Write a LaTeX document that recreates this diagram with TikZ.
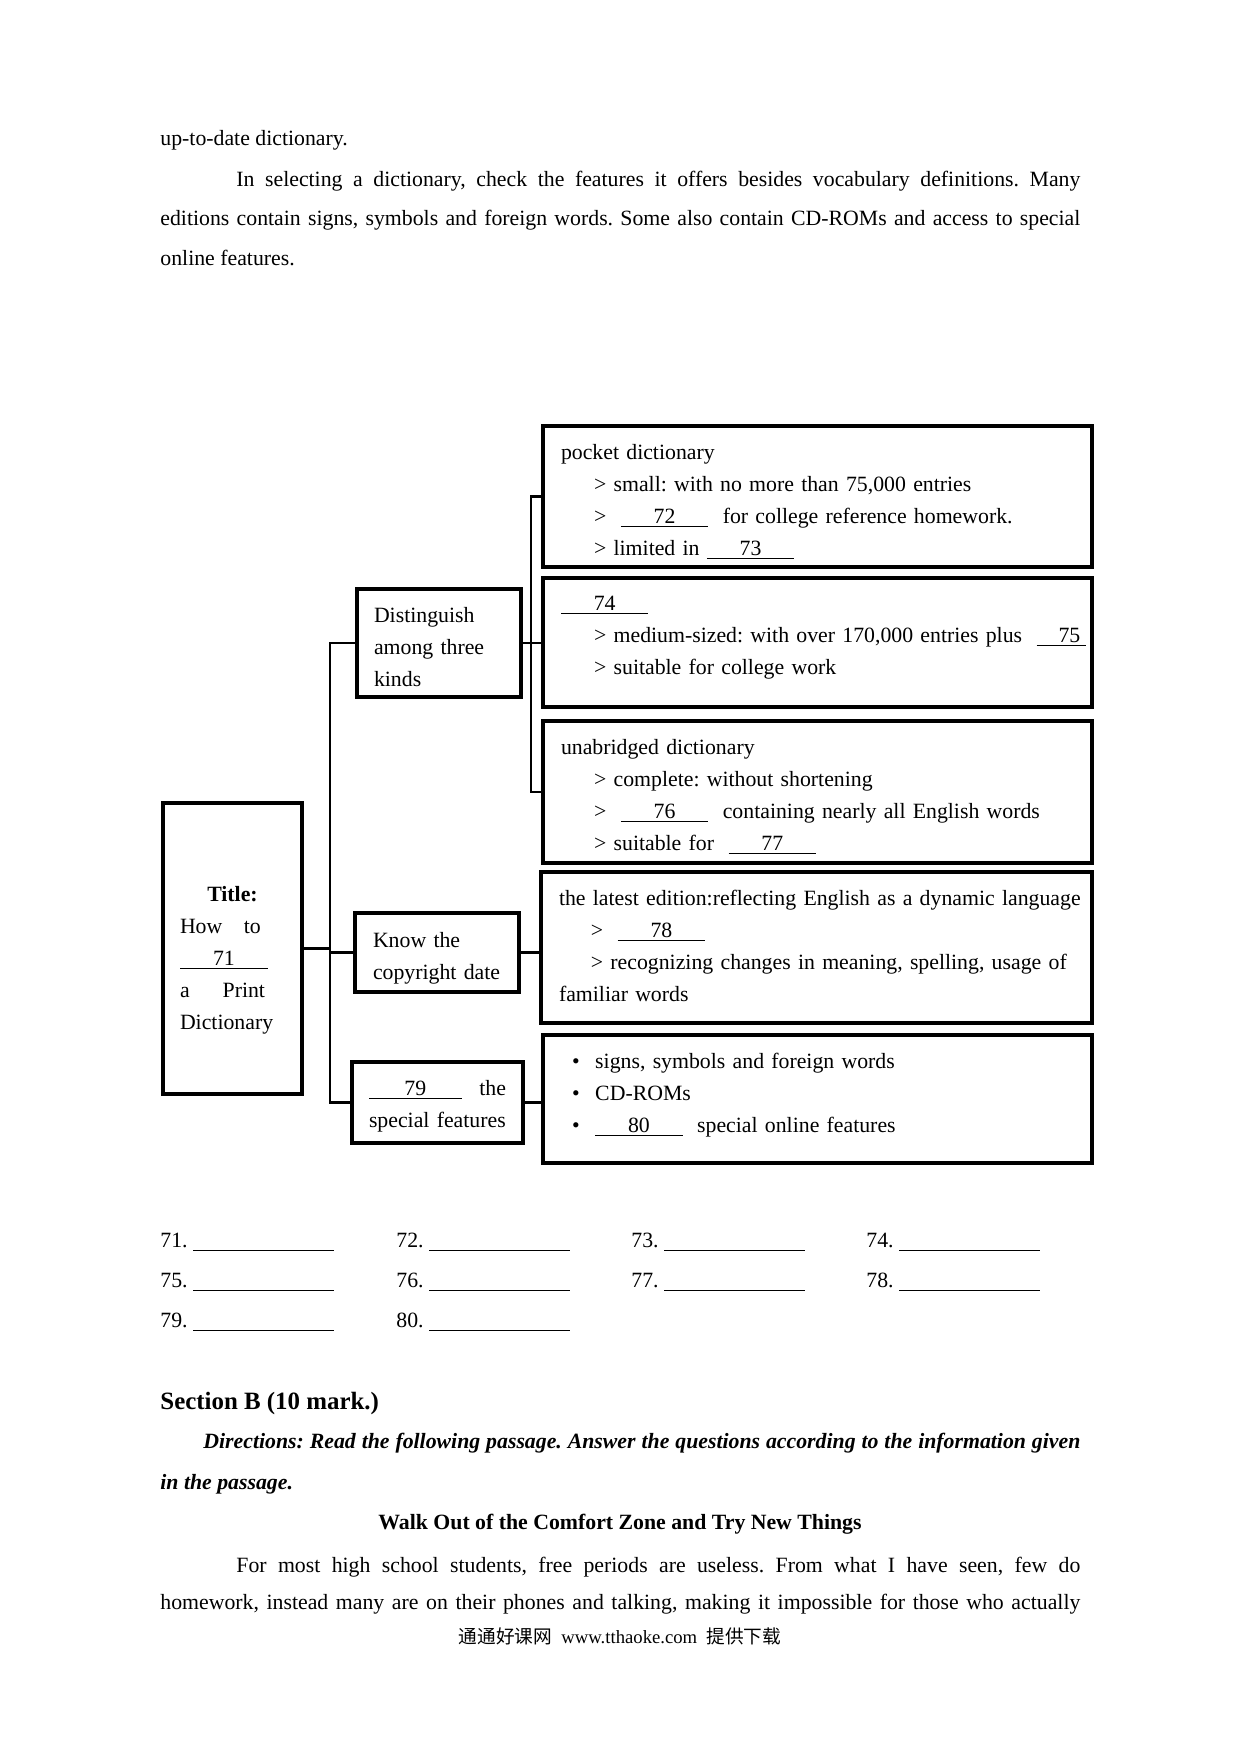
\documentclass[tikz,border=0pt]{standalone}
\usepackage{fontspec}
\setmainfont{Liberation Serif}
\newfontfamily\cjk{Noto Sans CJK SC}
\newcommand\fillin[2][14.8mm]{\underline{\makebox[#1]{#2}}}
\newcommand\spreadto[2]{\leavevmode\hbox to #1{#2}}
\frenchspacing

\begin{document}
\begin{tikzpicture}[
    x=0.16935mm, y=-0.16935mm,
    font=\fontsize{10.5}{15.5}\selectfont,
    txt/.style={anchor=base west, inner sep=0pt},
    panel/.style={draw, line width=1.6pt, anchor=north west, outer sep=0pt,
                  align=left, inner xsep=3.05mm, inner ysep=0pt,
                  text height=5.59mm},
    link/.style={line width=1.4pt}
]
\fill[white] (0,0) rectangle (1240,1754);

\node[txt] (uptodate) at (160,145) {up-to-date dictionary.};
\node[txt, text width=155.8mm, align=justify,
      font=\fontsize{10.5}{19.27}\selectfont] (select) at (160,186)
  {\hspace*{12.87mm}In selecting a dictionary, check the features it offers
   besides vocabulary definitions. Many\linebreak editions contain signs,
   symbols and foreign words. Some also contain CD-ROMs and access to
   special\linebreak online features.};

\node[panel, text width=17.78mm, inner xsep=2.88mm, text height=16.6mm,
      text depth=32.68mm] (title) at (163,803)
  {\spreadto{\linewidth}{\hfil\textbf{Title:}\hfil}\\
   \spreadto{13.7mm}{How\hfill to}\\
   \fillin[14.9mm]{71}\\
   \spreadto{14.4mm}{a\hfill Print}\\
   Dictionary};

\node[panel, text width=22.02mm, inner xsep=2.88mm, text depth=12.7mm]
  (kinds) at (357,589) {Distinguish\\among three\\kinds};
\node[panel, text width=21.68mm, text height=5.76mm, text depth=7.62mm]
  (copyright) at (355,913) {Know the\\copyright date};
\node[panel, text width=23.2mm, inner xsep=2.88mm, text depth=8.13mm]
  (special) at (352,1062) {\fillin[15.7mm]{79}\hfill the\\special features};

\node[panel, text width=86.88mm, text depth=18.29mm] (kind1) at (543,426)
  {pocket dictionary\\
   \hspace*{5.6mm}> small: with no more than 75,000 entries\\
   \hspace*{5.6mm}>~~\fillin{72}~~for college reference homework.\\
   \hspace*{5.6mm}> limited in~\fillin{73}};
\node[panel, text width=86.88mm, text height=5.42mm, text depth=16.43mm]
  (kind2) at (543,578)
  {\fillin{74}\\
   \hspace*{5.6mm}\mbox{> medium-sized: with over 170,000 entries plus~~\fillin[8.4mm]{\hfill 75\hspace{1mm}}}\\
   \hspace*{5.6mm}> suitable for college work};
\node[panel, text width=86.88mm, text depth=18.46mm] (kind3) at (543,721)
  {unabridged dictionary\\
   \hspace*{5.6mm}> complete: without shortening\\
   \hspace*{5.6mm}>~~\fillin{76}~~containing nearly all English words\\
   \hspace*{5.6mm}> suitable for~~\fillin{77}};
\node[panel, text width=87.21mm, text depth=19.98mm] (latest) at (541,872)
  {\mbox{the latest edition:reflecting English as a dynamic language}\\
   \hspace*{5.4mm}>~~\fillin{78}\\
   \hspace*{5.4mm}\spreadto{81.6mm}{> recognizing changes in meaning, spelling, usage of}\\
   familiar words};
\node[panel, text width=86.88mm, text depth=16.09mm] (extra) at (543,1035)
  {\hspace*{1.9mm}\makebox[3.9mm][l]{•}signs, symbols and foreign words\\
   \hspace*{1.9mm}\makebox[3.9mm][l]{•}CD-ROMs\\
   \hspace*{1.9mm}\makebox[3.9mm][l]{•}\fillin{80}~~special online features};

\coordinate (trunk) at (330,948.5);
\coordinate (fork) at (531,643);
\draw[link] (title.east) -- (trunk);
\draw[link] (kinds.west) -| (trunk) |- (special.west);
\draw[link] (trunk |- copyright.west) -- (copyright.west);
\draw[link] (kinds.east) -- (kinds.east -| kind2.west);
\draw[link] (kind1.west) -| (fork) |- (kind3.west);
\draw[link] (copyright.east) -- (copyright.east -| latest.west);
\draw[link] (special.east) -- (special.east -| extra.west);

\node[txt] (a71) at (160,1247) {71. \underline{\hspace{23.88mm}}};
\node[txt] (a72) at (396,1247) {72. \underline{\hspace{23.88mm}}};
\node[txt] (a73) at (631,1247) {73. \underline{\hspace{23.88mm}}};
\node[txt] (a74) at (866,1247) {74. \underline{\hspace{23.88mm}}};
\node[txt] (a75) at (160,1287) {75. \underline{\hspace{23.88mm}}};
\node[txt] (a76) at (396,1287) {76. \underline{\hspace{23.88mm}}};
\node[txt] (a77) at (631,1287) {77. \underline{\hspace{23.88mm}}};
\node[txt] (a78) at (866,1287) {78. \underline{\hspace{23.88mm}}};
\node[txt] (a79) at (160,1327) {79. \underline{\hspace{23.88mm}}};
\node[txt] (a80) at (396,1327) {80. \underline{\hspace{23.88mm}}};

\node[txt, font=\fontsize{12}{14}\selectfont\bfseries] (secb) at (160,1409)
  {Section B (10 mark.)};
\node[txt, text width=155.8mm, align=justify,
      font=\fontsize{10.5}{19.76}\selectfont\bfseries\itshape] (directions) at (160,1448)
  {\hspace*{7.28mm}Directions: Read the following passage. Answer the
   questions according to the information given\linebreak in the passage.};
\node[anchor=base, inner sep=0pt, font=\fontsize{10.5}{12}\selectfont\bfseries]
  (walkout) at (620,1529) {Walk Out of the Comfort Zone and Try New Things};
\node[txt, text width=155.8mm, align=justify,
      font=\fontsize{10.5}{18.3}\selectfont] (passage) at (160,1572)
  {\hspace*{12.87mm}For most high school students, free
   periods are useless. From what I have seen, few do\linebreak
   \spreadto{\linewidth}{homework, instead many are on their phones and talking,
   making it impossible for those who actually}};
\node[anchor=base, inner sep=0pt, font=\fontsize{9}{11}\selectfont]
  (footer) at (620,1643) {{\cjk 通通好课网}\ \ www.tthaoke.com\ \ {\cjk 提供下载}};
\end{tikzpicture}
\end{document}
